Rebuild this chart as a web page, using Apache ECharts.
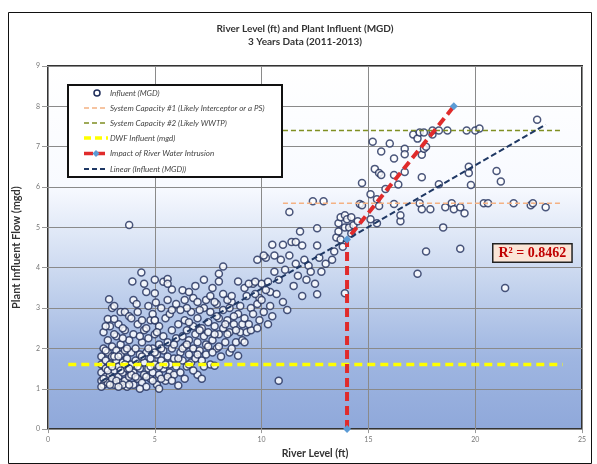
<!DOCTYPE html>
<html>
<head>
<meta charset="utf-8">
<script src="https://cdn.jsdelivr.net/npm/echarts@6/dist/echarts.min.js"></script>
<style>html,body{margin:0;padding:0;background:#fff}#c{width:597px;height:464px}</style>
</head>
<body>
<div id="c"></div>
<script>
// ---- data ----
var xTicks = [0, 5, 10, 15, 20, 25];
var yTicks = [0, 1, 2, 3, 4, 5, 6, 7, 8, 9];

var influentLow = [
[2.5,1.2],[2.5,1.4],[2.5,1.6],[2.5,1.8],[2.6,2.0],[2.6,1.1],[2.7,1.3],[2.7,1.5],[2.7,1.7],[2.8,1.9],[2.8,2.2],[2.8,1.15],[2.9,1.35],[2.9,1.6],[3.0,1.8],[3.0,2.05],[3.0,1.25],[3.1,1.45],[3.1,1.1],[3.2,1.7],[3.2,1.95],[3.2,2.3],[3.3,1.3],[3.3,1.55],[3.4,1.15],[3.4,1.85],[3.4,2.1],[3.5,1.4],[3.5,1.65],[3.6,1.2],[3.6,1.95],[3.6,2.45],[3.7,1.05],[3.7,1.5],[3.7,1.75],[3.8,2.2],[3.8,1.3],[3.9,1.6],[3.9,1.9],[4.0,1.1],[4.0,1.4],[4.0,2.35],[2.6,2.4],[2.9,2.55],[3.3,2.6],[3.1,2.35],
[2.6,1.25],[2.8,1.45],[3.0,1.55],[3.2,1.2],[3.4,1.45],[3.5,1.1],[3.6,1.6],[3.8,1.1],[3.9,1.35],[2.7,1.95],[3.1,1.8],[3.5,2.25],[3.7,2.0],[2.5,1.05],[2.9,1.1],[3.3,1.05],[3.3,1.8],[3.8,1.5],
[4.1,1.7],[4.1,2.0],[4.2,1.25],[4.2,2.6],[4.3,1.5],[4.3,1.85],[4.4,1.15],[4.4,2.15],[4.5,1.35],[4.5,1.65],[4.5,2.45],[4.6,1.05],[4.6,1.9],[4.7,1.5],[4.7,2.25],[4.8,1.25],[4.8,1.75],[4.8,2.7],[4.9,2.0],[4.9,1.4],[5.0,1.6],[5.0,2.35],[5.1,1.1],[5.1,1.85],[5.2,1.35],[5.2,2.1],[5.2,2.55],[5.3,1.7],[5.4,1.5],[5.4,1.95],[5.4,2.3],[5.5,1.2],[5.5,2.75],[5.6,1.8],[5.6,2.15],[5.7,1.4],[5.7,1.6],[5.8,2.45],[5.8,2.0],[5.9,1.35],[5.9,1.75],[6.0,2.25],[6.0,1.55],[6.1,1.08],[6.1,2.6],[4.2,2.9],[4.4,2.7],[5.0,2.7],[5.7,2.85],
[4.2,1.55],[4.4,1.8],[4.6,1.3],[4.7,2.0],[4.9,1.2],[5.0,1.9],[5.3,1.25],[5.3,2.0],[5.5,1.6],[5.6,1.3],[4.3,2.3],[4.6,2.5],[5.1,2.4],[5.9,2.1],[4.1,1.3],[4.8,1.55],[5.2,1.55],[5.8,1.2],
[5.2,1.0],[4.3,1.0],[3.4,2.9],[3.0,3.0],[4.9,2.85],[5.3,3.0]
];

var influentMid = [
[6.2,1.4],[6.2,1.9],[6.3,2.3],[6.3,1.7],[6.4,2.05],[6.4,2.7],[6.5,1.55],[6.5,2.45],[6.6,1.85],[6.6,2.2],[6.7,1.65],[6.7,2.9],[6.8,2.0],[6.8,2.55],[6.9,1.75],[6.9,2.35],[7.0,1.35],[7.0,2.15],[7.0,2.75],[7.1,1.95],[7.2,2.5],[7.2,1.7],[7.3,2.3],[7.3,3.0],[7.4,2.1],[7.4,1.85],[7.5,2.65],[7.5,2.4],[7.6,1.6],[7.6,2.9],[7.7,2.2],[7.8,1.57],[7.8,2.55],[7.9,2.0],[7.9,3.1],[8.0,2.35],[8.0,2.75],[8.1,1.8],[8.2,2.5],[8.2,2.95],[8.3,2.15],[8.4,2.7],[8.5,1.9],[8.5,2.4],[8.6,3.15],[8.7,2.6],[8.8,2.15],[8.9,1.82],[8.9,2.85],[9.0,2.4],[9.1,2.2],[9.2,2.15],[9.3,2.4],[9.0,3.05],
[6.1,1.75],[6.3,2.0],[6.5,2.1],[6.6,1.6],[6.8,1.45],[7.0,1.85],[7.1,2.45],[7.3,1.55],[7.5,2.05],[7.7,1.9],[7.8,2.35],[8.0,2.05],[8.3,2.6],[8.4,2.35],[8.6,2.0],[8.7,2.8],[8.8,2.45],[9.1,2.6],[9.5,2.45],[9.8,2.5],[6.6,2.65],[7.1,2.95],[7.4,3.2],[7.9,2.8],[8.5,3.0],[9.2,3.5],[9.9,3.25],[10.4,3.4],[6.5,3.0],[5.6,3.2],[4.6,3.4],[5.8,2.95],[6.9,3.55],[7.3,3.7],[7.7,3.5],[4.5,3.6],[6.4,1.25],[7.2,1.25],
[4.37,3.88],[3.95,3.66],[5.0,3.7],[5.4,3.65],[5.6,3.72],[5.8,3.46],[5.0,3.37],[2.86,3.22],[3.1,3.05],[4.0,3.2],[4.15,3.1],[5.05,3.14],[4.7,3.05],[3.6,2.9],[3.8,2.8],[3.9,2.75],[2.8,2.73],[3.1,2.73],[5.0,2.7],[2.7,2.55],[3.5,2.5],[6.3,3.44],[6.4,3.2],[6.6,3.4],[6.8,3.25],[7.6,3.3],[7.8,3.15],[8.2,3.35],[8.4,3.2],[8.6,3.3],[8.0,3.85],[8.0,3.66],[8.2,4.03],[8.9,3.66],[5.6,3.6],[6.0,3.1],[6.2,2.95],[7.0,3.15],
[3.8,5.06],[10.8,1.2]
];

var influentHigh = [
[9.2,2.75],[9.3,3.3],[9.4,2.6],[9.5,3.0],[9.6,3.6],[9.6,2.85],[9.7,3.35],[9.8,4.2],[9.8,3.1],[9.9,2.7],[10.0,3.6],[10.0,3.2],[10.1,2.9],[10.2,4.25],[10.2,3.45],[10.3,3.65],[10.4,3.05],[10.5,4.57],[10.5,2.8],[10.6,3.9],[10.6,4.3],[10.7,3.35],[10.8,3.7],[10.9,4.2],[11.0,4.57],[11.0,3.15],[11.1,3.95],[11.2,2.95],[11.3,4.3],[11.3,5.38],[11.4,4.64],[11.5,3.55],[11.6,4.64],[11.6,4.1],[11.7,3.8],[11.8,4.9],[11.9,4.55],[11.9,3.3],[12.0,4.2],[12.1,3.7],[12.2,4.05],[12.3,3.9],[12.4,5.65],[12.5,3.6],[12.6,4.98],[12.6,4.55],[12.6,3.34],[12.7,4.25],[12.9,5.65],[12.8,3.9],[13.0,4.1],[9.4,3.6],[9.7,3.65],[10.3,2.6],[10.1,4.3],
[13.4,4.4],[13.5,4.75],[13.6,5.1],[13.6,4.9],[13.7,5.25],[13.8,4.52],[13.9,3.37],[13.9,5.0],[13.9,5.3],[14.0,5.2],[14.1,5.0],[14.2,4.85],[14.2,5.25],[14.3,5.05],[14.5,5.15],[14.6,5.58],[14.7,5.55],[14.7,6.1],[13.3,4.2],[13.7,4.7],
[15.1,5.82],[15.1,5.2],[15.2,7.12],[15.3,6.45],[15.4,5.7],[15.5,5.53],[15.5,6.35],[15.6,6.88],[15.6,6.3],[15.8,5.95],[15.4,5.1],[16.0,7.08],[16.2,6.71],[16.2,5.58],[16.2,6.3],[16.4,6.06],[16.5,5.15],[16.5,5.3],[16.7,6.95],[16.7,6.81],[16.7,6.37],[17.1,7.3],[17.3,7.2],[17.4,7.35],[17.4,5.6],[17.5,6.24],[17.5,6.8],[17.6,6.95],[17.6,7.35],[17.7,7.0],[17.5,5.45],[17.7,4.4],[17.3,3.85],[17.9,5.45],[18.0,7.3],[18.0,7.4],[18.3,6.07],[18.3,7.4],[18.5,5.0],[18.6,5.5],[18.7,7.4],[18.9,5.6],[19.0,5.45],[19.3,4.47],[19.3,5.5],[19.5,5.35],[19.6,7.4],[19.7,6.5],[19.7,6.35],[19.8,6.05],[20.0,7.4],[20.2,7.45],[20.4,5.6],[20.6,5.6],[21.0,6.4],[21.2,6.14],[21.4,3.5],[21.8,5.6],[22.6,5.55],[22.7,5.6],[22.9,7.67],[23.3,5.5]
];

var sysCap1 = [[11, 5.6], [24, 5.6]];
var sysCap2 = [[11, 7.4], [24, 7.4]];
var dwf = [[0.95, 1.6], [24.1, 1.6]];
var impact = [[14, 0], [14, 4.7], [19, 8]];
var linearFit = [[2.5, 1.19], [23.3, 7.55]];
var rSquared = 'R² = 0.8462';
var legendNames = ['Influent (MGD)', 'System Capacity #1 (Likely Interceptor or a PS)', 'System Capacity #2 (Likely WWTP)',
  'DWF Influent (mgd)', 'Impact of River Water Intrusion', 'Linear (Influent (MGD))'];

var influent = influentLow.concat(influentMid, influentHigh);

// ---- legend drawn as graphic (icons + text) ----
var legRows = [93, 108, 123, 138, 153.5, 169];
var legendGraphic = [{type: 'rect', z: 5, shape: {x: 68, y: 85, width: 214, height: 92},
  style: {fill: '#fff', stroke: '#111', lineWidth: 2}}];
function legLine(y, color, width, dash) {
  return {type: 'line', z: 6, shape: {x1: 84, y1: y, x2: 108, y2: y},
    style: {stroke: color, lineWidth: width, lineDash: dash}};
}
legRows.forEach(function (y, i) {
  legendGraphic.push({type: 'text', z: 6, style: {text: legendNames[i], x: 110, y: y,
    font: 'italic 8px Lato', fill: '#444', verticalAlign: 'middle'}});
});
legendGraphic.push({type: 'circle', z: 6, shape: {cx: 97, cy: legRows[0], r: 3},
  style: {fill: '#fff', stroke: '#1f2d5a', lineWidth: 1.5}});
legendGraphic.push(legLine(legRows[1], '#f4b183', 1.5, [5, 3]));
legendGraphic.push(legLine(legRows[2], '#7f8f22', 1.5, [5, 3]));
legendGraphic.push(legLine(legRows[3], '#ffff00', 3.5, [7, 4]));
legendGraphic.push(legLine(legRows[4], '#e02b2b', 3.5, [9, 3]));
legendGraphic.push({type: 'polygon', z: 7, shape: {points: [[96, legRows[4] - 3.5], [99.5, legRows[4]], [96, legRows[4] + 3.5], [92.5, legRows[4]]]},
  style: {fill: '#5b9bd5'}});
legendGraphic.push(legLine(legRows[5], '#1f3864', 2, [5, 3]));

var chart = echarts.init(document.getElementById('c'));
var lbl = {color: '#777', fontSize: 7, fontFamily: 'Lato'};
chart.setOption({
  animation: false,
  title: {
    text: 'River Level (ft) and Plant Influent (MGD)\n3 Years Data (2011-2013)',
    left: 300, top: 17, textAlign: 'center',
    textStyle: {fontSize: 10, fontWeight: 'bold', color: '#333', fontFamily: 'Lato', lineHeight: 13}
  },
  grid: {
    left: 48, top: 66, right: 15, bottom: 32, show: true,
    borderColor: '#333', borderWidth: 2,
    backgroundColor: {type: 'linear', x: 0, y: 0, x2: 0, y2: 1, colorStops: [
      {offset: 0, color: '#ffffff'}, {offset: 0.33, color: '#f8faff'},
      {offset: 0.58, color: '#c9d7ef'}, {offset: 0.8, color: '#9fb6e1'},
      {offset: 1, color: '#8fa8da'}]}
  },
  xAxis: {
    type: 'value', min: 0, max: 25, interval: 5,
    name: 'River Level (ft)', nameLocation: 'middle', nameGap: 18,
    nameTextStyle: {fontSize: 10.5, fontWeight: 'bold', color: '#333', fontFamily: 'Lato'},
    axisLine: {show: false}, axisTick: {show: true, length: 4, lineStyle: {color: '#999'}},
    axisLabel: Object.assign({margin: 7, formatter: function (v) { return xTicks.indexOf(v) >= 0 ? v : ''; }}, lbl),
    splitLine: {show: true, lineStyle: {color: '#8a8a8a', width: 1}}
  },
  yAxis: {
    type: 'value', min: 0, max: 9, interval: 1,
    name: 'Plant Influent Flow (mgd)', nameLocation: 'middle', nameGap: 26,
    nameTextStyle: {fontSize: 11, fontWeight: 'bold', color: '#333', fontFamily: 'Lato'},
    axisLine: {show: false}, axisTick: {show: true, length: 6, lineStyle: {color: '#999'}},
    axisLabel: Object.assign({margin: 8, formatter: function (v) { return yTicks.indexOf(v) >= 0 ? v : ''; }}, lbl),
    splitLine: {show: true, lineStyle: {color: '#8a8a8a', width: 1}}
  },
  graphic: legendGraphic.concat([
    {type: 'rect', z: 1, silent: true, shape: {x: 8.5, y: 12.5, width: 583, height: 451},
     style: {fill: 'none', stroke: '#111', lineWidth: 1}},
    {type: 'text', z: 6, left: 492, top: 243,
     style: {text: rSquared, fill: '#c00000', font: 'bold 14px "Liberation Serif"',
             backgroundColor: '#fbe5d6', borderColor: '#222', borderWidth: 1.5, padding: [2, 5, 1, 5]}}
  ]),
  series: [
    {name: legendNames[0], type: 'scatter', data: influent, symbol: 'circle', symbolSize: 7, z: 2,
     itemStyle: {color: '#ffffff', borderColor: '#1f2d5a', borderWidth: 1.5}},
    {name: legendNames[1], type: 'line', data: sysCap1, symbol: 'none', z: 3,
     lineStyle: {color: '#f4b183', width: 1.5, type: [5, 3]}},
    {name: legendNames[2], type: 'line', data: sysCap2, symbol: 'none', z: 3,
     lineStyle: {color: '#7f8f22', width: 1.5, type: [5, 3]}},
    {name: legendNames[3], type: 'line', data: dwf, symbol: 'none', z: 3,
     lineStyle: {color: '#ffff00', width: 3.5, type: [8, 5]}},
    {name: legendNames[4], type: 'line', data: impact, symbol: 'diamond', symbolSize: 8, z: 4,
     itemStyle: {color: '#5b9bd5'}, lineStyle: {color: '#e02b2b', width: 4, type: [9, 5]}},
    {name: legendNames[5], type: 'line', data: linearFit, symbol: 'none', z: 4,
     lineStyle: {color: '#1f3864', width: 2, type: [6, 3]}}
  ]
});
</script>
</body>
</html>
